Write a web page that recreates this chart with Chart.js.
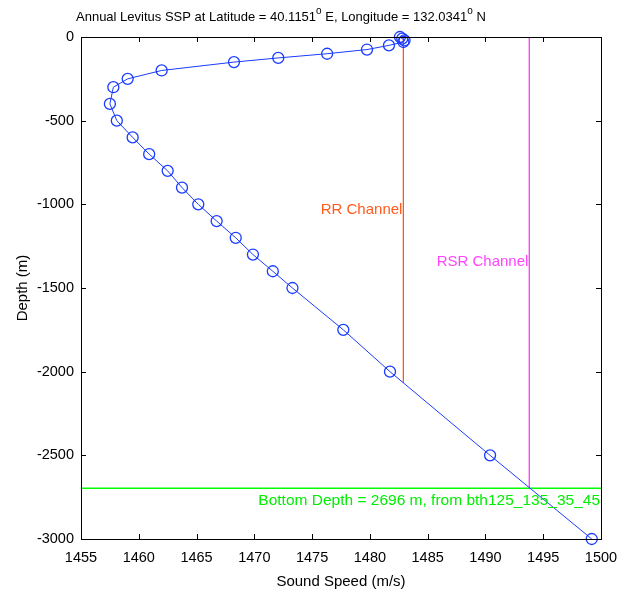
<!DOCTYPE html>
<html>
<head>
<meta charset="utf-8">
<script src="https://cdn.jsdelivr.net/npm/chart.js@4"></script>
<style>
  html, body { margin: 0; padding: 0; background: #fff; }
  #wrap { width: 629px; height: 596px; }
</style>
</head>
<body>
<div id="wrap"><canvas id="ssp"></canvas></div>
<script>
// Levitus standard depths (m) and sound speed (m/s)
const depths = [0, 10, 20, 30, 50, 75, 100, 125, 150, 200, 250, 300, 400, 500, 600,
    700, 800, 900, 1000, 1100, 1200, 1300, 1400, 1500, 1750, 2000, 2500, 3000];
const soundSpeed = [1482.6, 1482.8, 1483.0, 1482.9, 1481.65, 1479.75, 1476.3, 1472.07, 1468.24,
    1461.98, 1459.04, 1457.8, 1457.5, 1458.1, 1459.47, 1460.9, 1462.5, 1463.74, 1465.15,
    1466.74, 1468.39, 1469.88, 1471.6, 1473.3, 1477.7, 1481.74, 1490.4, 1499.2];

// channel markers
const rrSpeed = 1482.9;
const rrDepthEnd = 2067;
const rsrSpeed = 1493.8;
const bottomDepth = 2696;

const xRange = [1455, 1500];
const yRange = [-3000, 0];
const xStep = 5;
const yStep = 500;

const FONT = '"Liberation Sans", Arial, Helvetica, sans-serif';

// MATLAB-style box with inward ticks, text labels and title
const boxPlugin = {
    id: 'boxPlugin',
    afterDraw(chart) {
        const { ctx, chartArea: a, scales: { x, y } } = chart;
        ctx.save();
        ctx.strokeStyle = '#000';
        ctx.lineWidth = 1;
        ctx.strokeRect(a.left + 0.5, a.top + 0.5, a.right - a.left, a.bottom - a.top);
        const tl = 5;
        ctx.beginPath();
        x.ticks.forEach(t => {
            const px = Math.round(x.getPixelForValue(t.value)) + 0.5;
            ctx.moveTo(px, a.bottom); ctx.lineTo(px, a.bottom - tl);
            ctx.moveTo(px, a.top); ctx.lineTo(px, a.top + tl);
        });
        y.ticks.forEach(t => {
            const py = Math.round(y.getPixelForValue(t.value)) + 0.5;
            ctx.moveTo(a.left, py); ctx.lineTo(a.left + tl, py);
            ctx.moveTo(a.right, py); ctx.lineTo(a.right - tl, py);
        });
        ctx.stroke();

        // channel labels
        ctx.font = '15px ' + FONT;
        ctx.textAlign = 'right';
        ctx.textBaseline = 'middle';
        ctx.fillStyle = '#ff5a1e';
        ctx.fillText('RR Channel', x.getPixelForValue(rrSpeed) - 1, y.getPixelForValue(-1034));
        ctx.fillStyle = '#ff44ff';
        ctx.fillText('RSR Channel', x.getPixelForValue(rsrSpeed) - 1, y.getPixelForValue(-1345));
        ctx.font = '15.5px ' + FONT;
        ctx.fillStyle = '#00ee00';
        ctx.fillText('Bottom Depth = ' + bottomDepth + ' m, from bth125_135_35_45',
            a.right - 1, y.getPixelForValue(-bottomDepth) + 13);

        // title with superscript degree marks
        const parts = [
            ['Annual Levitus SSP at Latitude = 40.1151', false],
            ['o', true],
            [' E, Longitude = 132.0341', false],
            ['o', true],
            [' N', false]
        ];
        ctx.fillStyle = '#000';
        ctx.textAlign = 'left';
        ctx.textBaseline = 'alphabetic';
        let cx = 76;
        parts.forEach(([txt, sup]) => {
            ctx.font = (sup ? '10px ' : '13px ') + FONT;
            ctx.fillText(txt, cx, sup ? 14 : 21);
            cx += ctx.measureText(txt).width;
        });
        ctx.restore();
    }
};

const ssp = depths.map((d, i) => ({ x: soundSpeed[i], y: -d }));
const plain = v => String(v);

new Chart(document.getElementById('ssp'), {
    type: 'scatter',
    data: {
        datasets: [
            {
                data: ssp,
                showLine: true,
                borderColor: '#1a3cff',
                borderWidth: 1,
                pointRadius: 5.5,
                pointStyle: 'circle',
                pointBorderColor: '#1a3cff',
                pointBorderWidth: 1.3,
                pointBackgroundColor: 'rgba(0,0,0,0)',
                order: 0
            },
            {
                data: [{ x: rrSpeed, y: 0 }, { x: rrSpeed, y: -rrDepthEnd }],
                showLine: true,
                borderColor: '#ff5a1e',
                borderWidth: 1,
                pointRadius: 0,
                order: 1
            },
            {
                data: [{ x: rsrSpeed, y: 0 }, { x: rsrSpeed, y: -bottomDepth }],
                showLine: true,
                borderColor: '#ff44ff',
                borderWidth: 1,
                pointRadius: 0,
                order: 1
            },
            {
                data: [{ x: xRange[0], y: -bottomDepth }, { x: xRange[1], y: -bottomDepth }],
                showLine: true,
                borderColor: '#00ff00',
                borderWidth: 1.5,
                pointRadius: 0,
                order: 1
            }
        ]
    },
    options: {
        responsive: true,
        maintainAspectRatio: false,
        animation: false,
        clip: false,
        layout: { padding: { top: 37, right: 28, left: 0, bottom: 0 } },
        plugins: {
            legend: { display: false },
            tooltip: { enabled: false }
        },
        scales: {
            x: {
                type: 'linear',
                min: xRange[0],
                max: xRange[1],
                afterFit: s => { s.height = 57; },
                ticks: {
                    stepSize: xStep,
                    color: '#000',
                    padding: 10,
                    maxRotation: 0,
                    callback: plain,
                    font: { family: FONT, size: 14.5 }
                },
                grid: { display: false, drawTicks: false },
                border: { display: false },
                title: {
                    display: true,
                    text: 'Sound Speed (m/s)',
                    color: '#000',
                    padding: { top: 0, bottom: 5 },
                    font: { family: FONT, size: 15 }
                }
            },
            y: {
                type: 'linear',
                min: yRange[0],
                max: yRange[1],
                afterFit: s => { s.width = 81; },
                ticks: {
                    stepSize: yStep,
                    color: '#000',
                    padding: 7,
                    callback: plain,
                    font: { family: FONT, size: 14.5 }
                },
                grid: { display: false, drawTicks: false },
                border: { display: false },
                title: {
                    display: true,
                    text: 'Depth (m)',
                    color: '#000',
                    padding: { top: 14, bottom: 0 },
                    font: { family: FONT, size: 15 }
                }
            }
        }
    },
    plugins: [boxPlugin]
});
</script>
</body>
</html>
